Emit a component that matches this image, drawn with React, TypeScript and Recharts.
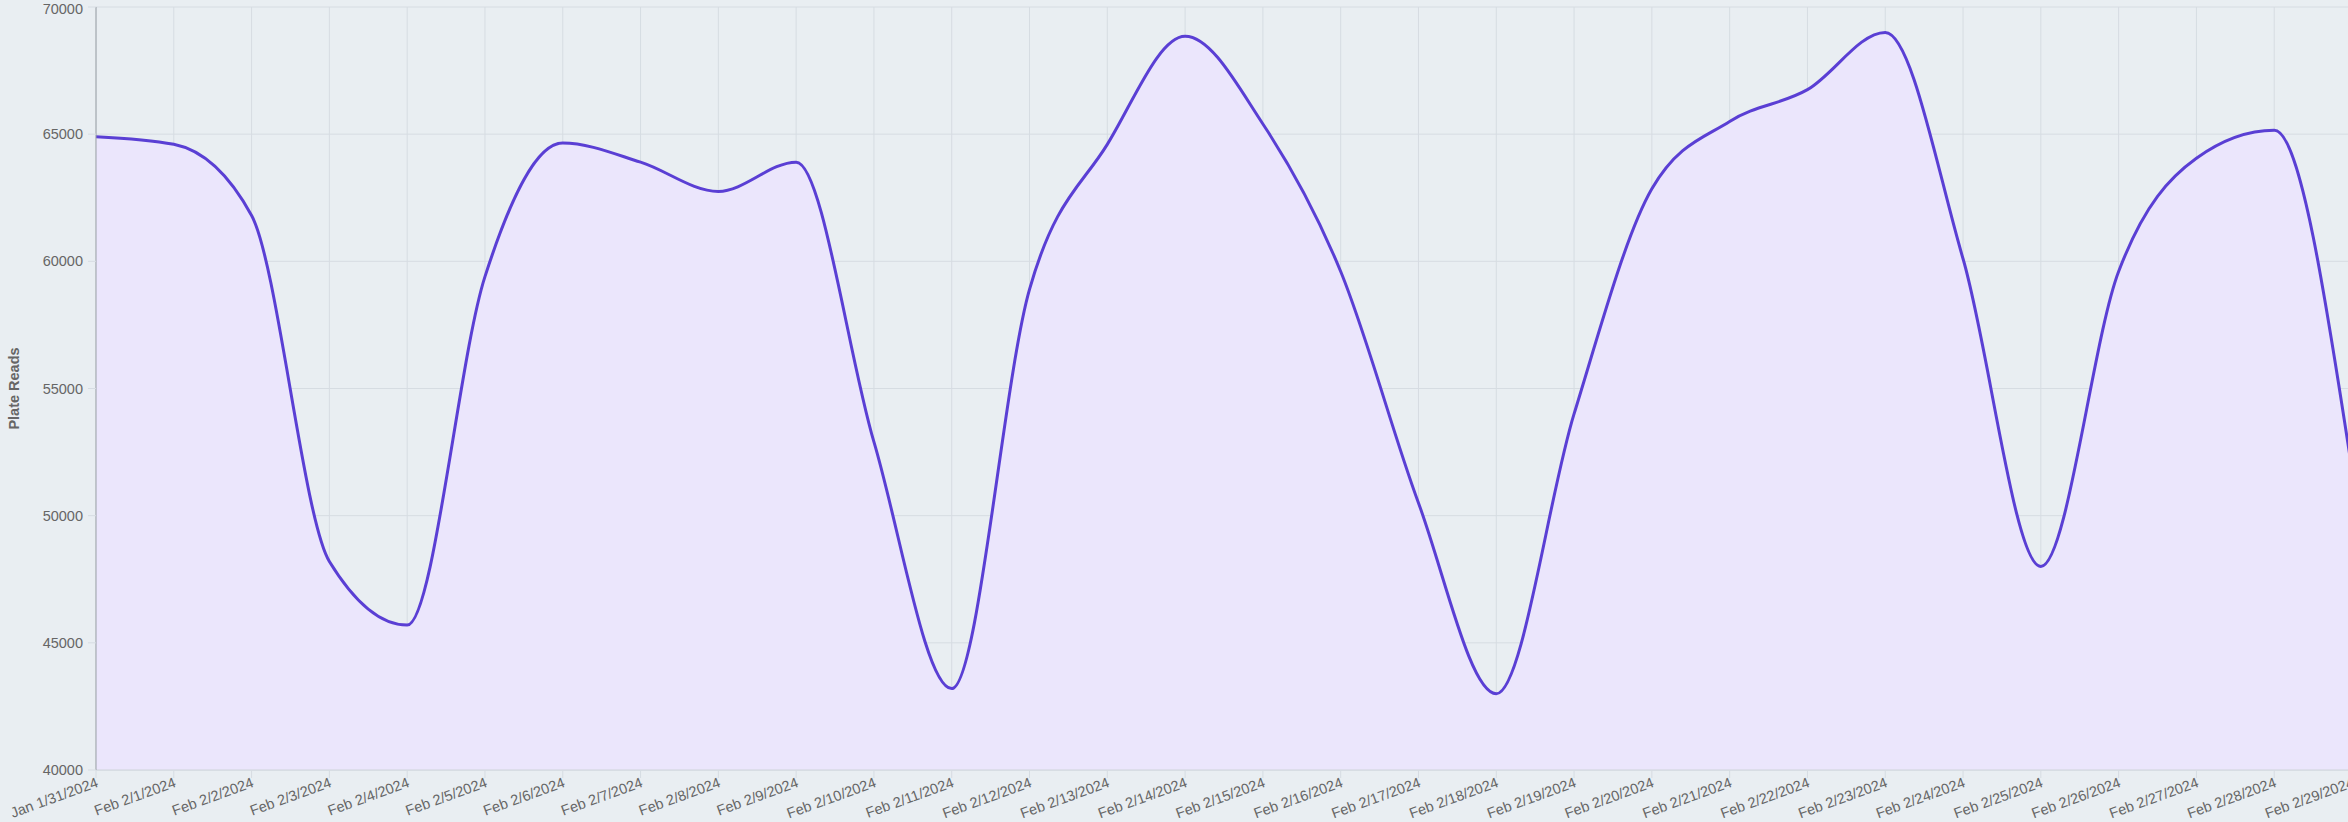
import React from "react";
import {
  AreaChart,
  Area,
  XAxis,
  YAxis,
  CartesianGrid,
} from "recharts";

const dates = [
  "Jan 1/31/2024", "Feb 2/1/2024", "Feb 2/2/2024", "Feb 2/3/2024", "Feb 2/4/2024",
  "Feb 2/5/2024", "Feb 2/6/2024", "Feb 2/7/2024", "Feb 2/8/2024", "Feb 2/9/2024",
  "Feb 2/10/2024", "Feb 2/11/2024", "Feb 2/12/2024", "Feb 2/13/2024", "Feb 2/14/2024",
  "Feb 2/15/2024", "Feb 2/16/2024", "Feb 2/17/2024", "Feb 2/18/2024", "Feb 2/19/2024",
  "Feb 2/20/2024", "Feb 2/21/2024", "Feb 2/22/2024", "Feb 2/23/2024", "Feb 2/24/2024",
  "Feb 2/25/2024", "Feb 2/26/2024", "Feb 2/27/2024", "Feb 2/28/2024", "Feb 2/29/2024",
];

const plateReads = [
  64900, 64600, 61800, 48200, 45700,
  59400, 64650, 63900, 62750, 63900,
  52900, 43200, 58900, 64600, 68850,
  65400, 59600, 50500, 43000, 54000,
  62850, 65500, 66750, 69000, 60100,
  48000, 59600, 64050, 65150, 51800,
];

const yTicks = [40000, 45000, 50000, 55000, 60000, 65000, 70000];

const data = dates.map((d, i) => ({ date: d, reads: plateReads[i] }));

const font = "'Liberation Sans', Arial, Helvetica, sans-serif";

const DateTick = (props: any) => {
  const { x, y, payload } = props;
  return (
    <g transform={`translate(${x},${y})`}>
      <text
        x={0}
        y={0}
        dy={9}
        textAnchor="end"
        transform="rotate(-20)"
        fill="#666"
        fontSize={14.5}
        fontFamily={font}
      >
        {payload.value}
      </text>
    </g>
  );
};

const YTitle = (props: any) => {
  const { viewBox } = props;
  const cx = 14;
  const cy = viewBox.y + viewBox.height / 2;
  return (
    <text
      x={cx}
      y={cy}
      transform={`rotate(-90, ${cx}, ${cy})`}
      textAnchor="middle"
      dominantBaseline="central"
      fill="#666"
      fontSize={14.5}
      fontWeight="bold"
      fontFamily={font}
    >
      Plate Reads
    </text>
  );
};

const App = () => {
  return (
    <div
      style={{
        position: "absolute",
        left: 0,
        top: 0,
        width: 2348,
        height: 822,
        overflow: "hidden",
        background: "#e9eef2",
      }}
    >
      <AreaChart
        width={2382}
        height={822}
        data={data}
        margin={{ top: 7, right: 30, left: 0, bottom: 0 }}
      >
        <CartesianGrid stroke="#d6dce2" strokeWidth={1} />
        <XAxis
          dataKey="date"
          interval={0}
          height={52}
          tickSize={8}
          tickMargin={0}
          tick={<DateTick />}
          axisLine={{ stroke: "#cfd5db" }}
          tickLine={{ stroke: "#d6dce2" }}
        />
        <YAxis
          width={96}
          domain={[40000, 70000]}
          ticks={yTicks}
          allowDataOverflow
          tickSize={8}
          tickMargin={5}
          tick={{ fill: "#666", fontSize: 14.5, fontFamily: font }}
          axisLine={{ stroke: "#9aa0a6" }}
          tickLine={{ stroke: "#d6dce2" }}
          label={<YTitle />}
        />
        <Area
          type="monotone"
          dataKey="reads"
          stroke="#5a3fd4"
          strokeWidth={3}
          fill="#ebe6fc"
          fillOpacity={1}
          dot={false}
          activeDot={false}
          isAnimationActive={false}
        />
      </AreaChart>
    </div>
  );
};

export default App;
